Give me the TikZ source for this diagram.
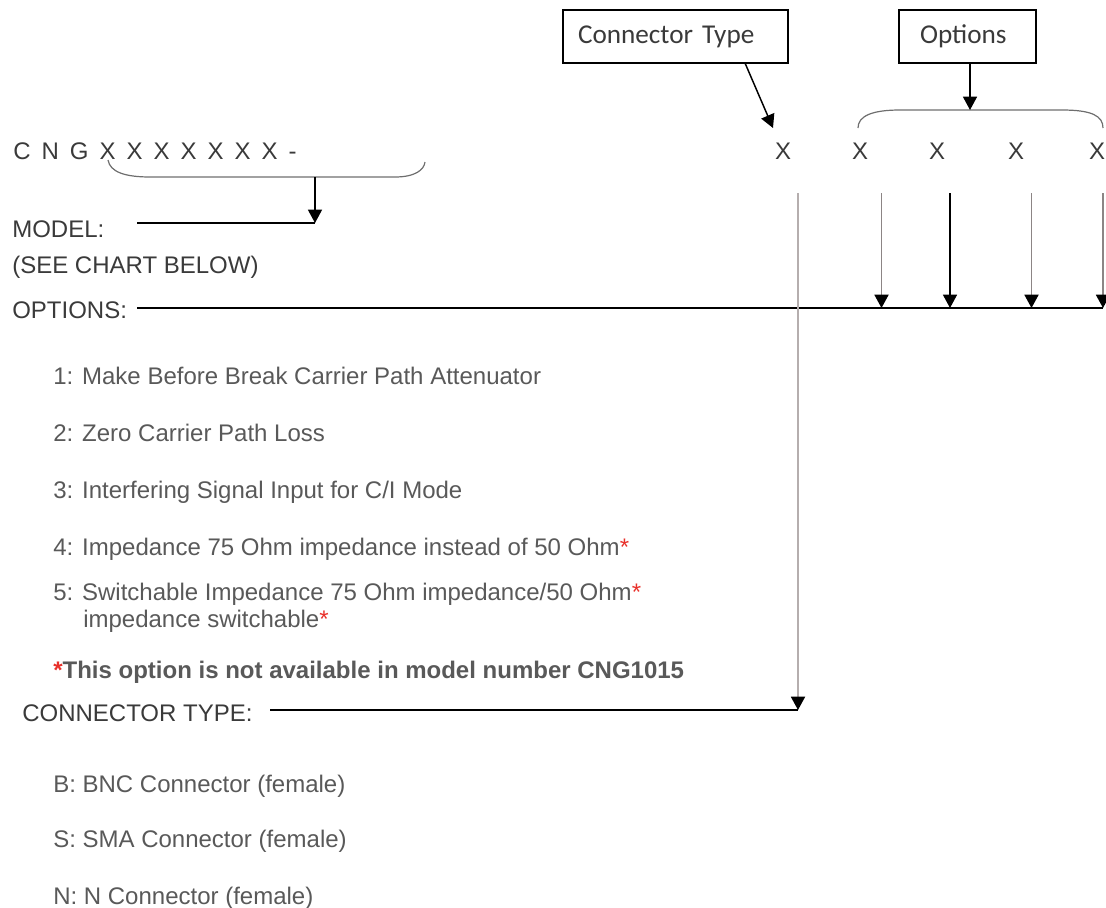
\documentclass[tikz,border=0pt]{standalone}
\usepackage{fontspec}
\setmainfont{Liberation Sans}
\newfontfamily\boxfont{Carlito}
\usetikzlibrary{arrows.meta}
\definecolor{labtxt}{HTML}{3A3A3A}
\definecolor{itemtxt}{HTML}{595959}
\definecolor{starred}{HTML}{E8302A}
\definecolor{brgray}{HTML}{6E6E6E}
\definecolor{ln}{HTML}{8C8585}
\definecolor{lightln}{HTML}{B5AEAE}
\newcommand{\rs}{\textcolor{starred}{*}}
\tikzset{
  lab/.style={anchor=base west, inner sep=0pt, text=labtxt, font=\fontsize{18}{21}\selectfont},
  itm/.style={anchor=base west, inner sep=0pt, text=itemtxt, font=\fontsize{18}{21}\selectfont},
  bx/.style={draw=black, line width=1pt, minimum height=53*0.75pt, inner xsep=0pt, align=left, text=labtxt, font=\boxfont\fontsize{20.4}{23}\selectfont},
  tipx/.style={-{Triangle[length=10pt,width=10.5pt,color=black]}},
  blk/.style={draw=black, line width=1.1pt},
  gln/.style={draw=ln, line width=1.4pt},
  brace/.style={draw=brgray, line width=0.9pt}
}
\begin{document}
\begin{tikzpicture}[x=0.75pt,y=-0.75pt]
\useasboundingbox (0,0) rectangle (1106,907);
% code row
\node[lab] (code) at (13,159) {{\spaceskip=8.25pt C N G X X X X X X X -}};
\node[lab, anchor=base] (x1) at (783,159) {X};
\node[lab, anchor=base] (x2) at (860,159) {X};
\node[lab, anchor=base] (x3) at (937,159) {X};
\node[lab, anchor=base] (x4) at (1016,159) {X};
\node[lab, anchor=base] (x5) at (1097,159) {X};
% boxes
\node[bx, minimum width=225*0.75pt, text width=195*0.75pt] (ctbox) at (675.5,36.5) {Connector Type};
\node[bx, minimum width=137*0.75pt, text width=95*0.75pt] (opbox) at (967.5,36.5) {Options};
% brace under model digits
\draw[brace] (108,160) .. controls (110,172) and (125,177) .. (150,177) -- (395,177) .. controls (415,177) and (424,170) .. (425,162);
% brace over options
\draw[brace] (858,128) .. controls (858,116) and (872,110) .. (900,110) -- (1062,110) .. controls (1092,110) and (1103,116) .. (1103,128);
% labels
\node[lab] (model) at (12,237) {MODEL:};
\node[lab] (see) at (12,273) {(SEE CHART BELOW)};
\node[lab] (opts) at (12,318) {OPTIONS:};
\node[itm] (i1) at (53,384) {1: Make Before Break Carrier Path Attenuator};
\node[itm] (i2) at (53,441) {2: Zero Carrier Path Loss};
\node[itm] (i3) at (53,498) {3: Interfering Signal Input for C/I Mode};
\node[itm] (i4) at (53,555) {4: Impedance 75 Ohm impedance instead of 50 Ohm\rs};
\node[itm] (i5) at (53,600) {5: Switchable Impedance 75 Ohm impedance/50 Ohm\rs};
\node[itm] (i5b) at (83,627) {impedance switchable\rs};
\node[itm, font=\bfseries\fontsize{18}{21}\selectfont] (note) at (53,678) {\rs This option is not available in model number CNG1015};
\node[lab] (ctype) at (22,721) {CONNECTOR TYPE:};
\node[itm] (cb) at (53,792) {B: BNC Connector (female)};
\node[itm] (cs) at (53,847) {S: SMA Connector (female)};
\node[itm] (cn) at (53,904) {N: N Connector (female)};
% coordinates
\coordinate (mbr) at (315,177);
\coordinate (mtip) at (315,223);
\coordinate (ml) at (137,223);
\coordinate (ol) at (137,308);
\coordinate (or) at (1103,308);
\coordinate (ctstart) at (745,63);
\coordinate (cttip) at (773,128);
\coordinate (opstart) at (970,63);
\coordinate (optip) at (970,110);
\coordinate (cv) at (798,193);
\coordinate (cvtip) at (798,710);
\coordinate (cl) at (270,710);
\coordinate (a1s) at (881.5,193); \coordinate (a1e) at (881.5,308);
\coordinate (a2s) at (950,193); \coordinate (a2e) at (950,308);
\coordinate (a3s) at (1031.5,193); \coordinate (a3e) at (1031.5,308);
\coordinate (a4s) at (1103,193); \coordinate (a4e) at (1103,308);
% connectors
\draw[blk, tipx] (ctstart) -- (cttip);
\draw[blk, tipx] (opstart) -- (optip);
\draw[blk, tipx] (mbr) -- (mtip);
\draw[blk] (ml) -- (mtip);
\draw[blk] (ol) -- (or);
\draw[draw=lightln, line width=1.4pt, tipx] (cv) -- (cvtip);
\draw[blk] (cl) -- (cvtip);
\draw[gln, tipx] (a1s) -- (a1e);
\draw[blk, tipx] (a2s) -- (a2e);
\draw[gln, tipx] (a3s) -- (a3e);
\draw[gln, tipx] (a4s) -- (a4e);
\end{tikzpicture}
\end{document}
